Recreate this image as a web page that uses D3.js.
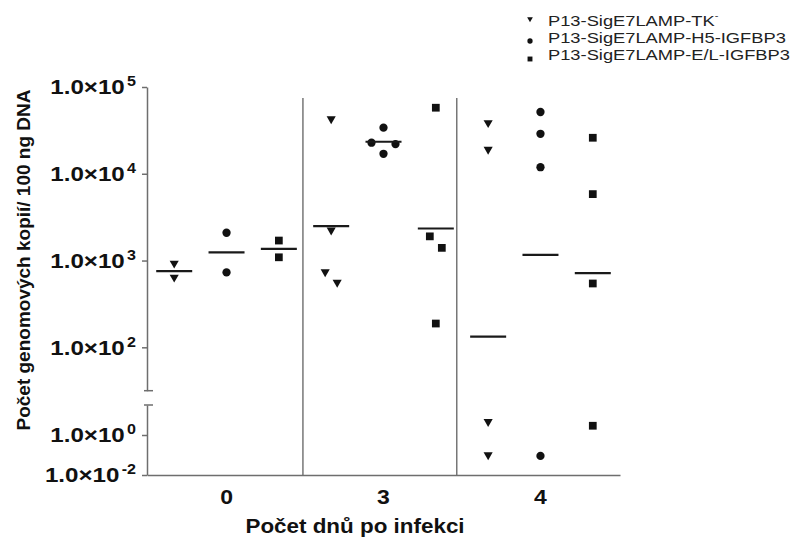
<!DOCTYPE html>
<html>
<head>
<meta charset="utf-8">
<script src="https://cdn.jsdelivr.net/npm/d3@7"></script>
<style>
body { margin: 0; background: #fff; }
svg { display: block; font-family: "Liberation Sans", Arial, sans-serif; }
.axis .domain, .axis line { stroke: #6e6e6e; stroke-width: 1.5; }
.axis text { fill: #111; font-weight: bold; }
</style>
</head>
<body>
<svg id="chart" width="806" height="544"></svg>
<script>
// Days after infection (x groups)
var days = ["0", "3", "4"];
var seriesNames = ["P13-SigE7LAMP-TK", "P13-SigE7LAMP-H5-IGFBP3", "P13-SigE7LAMP-E/L-IGFBP3"];

// Genome copies per 100 ng DNA, one list per day
var tkValues = [[930, 640], [42800, 2240, 740, 560], [38700, 19100, 4.6, 0.1]];
var h5Values = [[2090, 730], [34000, 22800, 22000, 17000], [51500, 28900, 11900, 0.09]];
var elValues = [[1700, 1090], [57700, 1900, 1400, 188], [26000, 5830, 544, 2.9]];

// Horizontal bars (group averages)
var tkMeans = [755, 2490, 133];
var h5Means = [1240, 23400, 1164];
var elMeans = [1365, 2340, 716];

// Tick values of the broken log axis
var yTicksUpper = [1e5, 1e4, 1e3, 1e2];
var yTicksLower = [1e0, 1e-2];

// the original picture is a bit wider than the font
var stretch = 1.15;

var svg = d3.select("#chart");

// Broken y axis: two log scales
var breakValue = Math.pow(10, 1.5);
var yUpper = d3.scaleLog().domain([breakValue, 1e5]).range([390.7, 87]);
var yLower = d3.scaleLog().domain([1e-2, breakValue]).range([475, 405]);
function y(v) { return v >= breakValue ? yUpper(v) : yLower(v); }

// x: slot index = day * 3 + series
var x = d3.scaleLinear().domain([-0.52, 8.52]).range([147, 620]);

// Group separators
svg.selectAll(".sep")
	.data([2.46, 5.4])
	.enter().append("line")
	.attr("class", "sep")
	.attr("x1", function(d) { return x(d); })
	.attr("x2", function(d) { return x(d); })
	.attr("y1", yUpper(1e5) + 11)
	.attr("y2", 475)
	.attr("stroke", "#777")
	.attr("stroke-width", 1.5);

// Tick label like 1.0x10^n
function powerLabel(sel) {
	sel.selectAll(".tick text").each(function(d) {
		var t = d3.select(this);
		t.text(null).attr("font-size", 21)
			.attr("x", -11 / stretch)
			.attr("transform", "scale(" + stretch + ",1)");
		t.append("tspan").text("1.0\u00d710");
		t.append("tspan").attr("dx", 2).attr("dy", -8).attr("font-size", 14)
			.text(Math.round(Math.log10(d)));
	});
}

svg.append("g")
	.attr("class", "axis")
	.attr("transform", "translate(147,0)")
	.call(d3.axisLeft(yUpper).tickValues(yTicksUpper).tickSize(5).tickSizeOuter(0).tickPadding(6).tickFormat(""))
	.call(powerLabel);

svg.append("g")
	.attr("class", "axis")
	.attr("transform", "translate(147,0)")
	.call(d3.axisLeft(yLower).tickValues(yTicksLower).tickSize(5).tickSizeOuter(0).tickPadding(6).tickFormat(""))
	.call(powerLabel);

// Caps at the axis break
svg.selectAll(".cap")
	.data([yUpper(breakValue), yLower(breakValue)])
	.enter().append("line")
	.attr("class", "cap")
	.attr("x1", 144).attr("x2", 153)
	.attr("y1", function(d) { return d; })
	.attr("y2", function(d) { return d; })
	.attr("stroke", "#6e6e6e")
	.attr("stroke-width", 1.5);

// x axis
var xAxis = svg.append("g")
	.attr("class", "axis")
	.attr("transform", "translate(0,475)")
	.call(d3.axisBottom(x).tickValues([1, 4, 7]).tickSize(0).tickSizeOuter(0).tickPadding(15)
		.tickFormat(function(i) { return days[(i - 1) / 3]; }));
xAxis.selectAll("text").attr("font-size", 20).attr("transform", "scale(" + stretch + ",1)");
xAxis.selectAll(".tick").attr("transform", function(i) { return "translate(" + x(i) + ",0)"; });

// Points, with a small dodge for overlapping markers
var allValues = [tkValues, h5Values, elValues];
var points = [];
allValues.forEach(function(series, s) {
	series.forEach(function(vals, d) {
		var grp = vals.map(function(v) { return { s: s, d: d, v: v, py: y(v), dx: 0 }; });
		grp.sort(function(a, b) { return a.py - b.py; });
		for (var i = 1; i < grp.length; i++) {
			var dy = grp[i].py - grp[i - 1].py;
			if (grp[i - 1].dx === 0 && dy < 12) {
				var shift = dy < 6 ? 12 : 6;
				grp[i - 1].dx = -shift;
				grp[i].dx = shift;
			}
		}
		points = points.concat(grp);
	});
});

var symbols = [
	d3.symbol().type(d3.symbolTriangle).size(36),
	d3.symbol().type(d3.symbolCircle).size(54),
	d3.symbol().type(d3.symbolSquare).size(60)
];

svg.selectAll(".pt")
	.data(points)
	.enter().append("path")
	.attr("class", "pt")
	.attr("d", function(p) { return symbols[p.s](); })
	.attr("transform", function(p) {
		var tr = "translate(" + (x(p.d * 3 + p.s) + p.dx) + "," + p.py + ")";
		return p.s === 0 ? tr + " rotate(180)" : tr;
	})
	.attr("fill", "#111");

// Mean bars
var means = [];
[tkMeans, h5Means, elMeans].forEach(function(m, s) {
	m.forEach(function(v, d) { means.push({ s: s, d: d, v: v }); });
});

svg.selectAll(".mean")
	.data(means)
	.enter().append("line")
	.attr("class", "mean")
	.attr("x1", function(m) { return x(m.d * 3 + m.s) - 18; })
	.attr("x2", function(m) { return x(m.d * 3 + m.s) + 18; })
	.attr("y1", function(m) { return y(m.v); })
	.attr("y2", function(m) { return y(m.v); })
	.attr("stroke", "#1a1a1a")
	.attr("stroke-width", 2.2);

// Axis titles
svg.append("text")
	.attr("transform", "translate(355,533) scale(" + stretch + ",1)")
	.attr("text-anchor", "middle")
	.attr("font-size", 19.5).attr("font-weight", "bold").attr("fill", "#111")
	.text("Počet dnů po infekci");

svg.append("text")
	.attr("transform", "translate(30,260) rotate(-90)")
	.attr("text-anchor", "middle")
	.attr("font-size", 19).attr("font-weight", "bold").attr("fill", "#111")
	.text("Počet genomových kopií/ 100 ng DNA");

// Legend
var legendSymbols = [
	d3.symbol().type(d3.symbolTriangle).size(14),
	d3.symbol().type(d3.symbolCircle).size(22),
	d3.symbol().type(d3.symbolSquare).size(24)
];
var legendMarkY = [19, 41, 59];
var legendTextY = [26, 43, 60];

var legend = svg.append("g").attr("class", "legend");
seriesNames.forEach(function(name, s) {
	legend.append("path")
		.attr("d", legendSymbols[s]())
		.attr("transform", "translate(530," + legendMarkY[s] + ")" + (s === 0 ? " rotate(180)" : ""))
		.attr("fill", "#111");
	var t = legend.append("text")
		.attr("transform", "translate(548," + legendTextY[s] + ") scale(1.22,1)")
		.attr("font-size", 15).attr("fill", "#222")
		.text(name);
	if (s === 0) {
		t.append("tspan").attr("dy", -7).attr("font-size", 9).text("-");
	}
});
</script>
</body>
</html>
